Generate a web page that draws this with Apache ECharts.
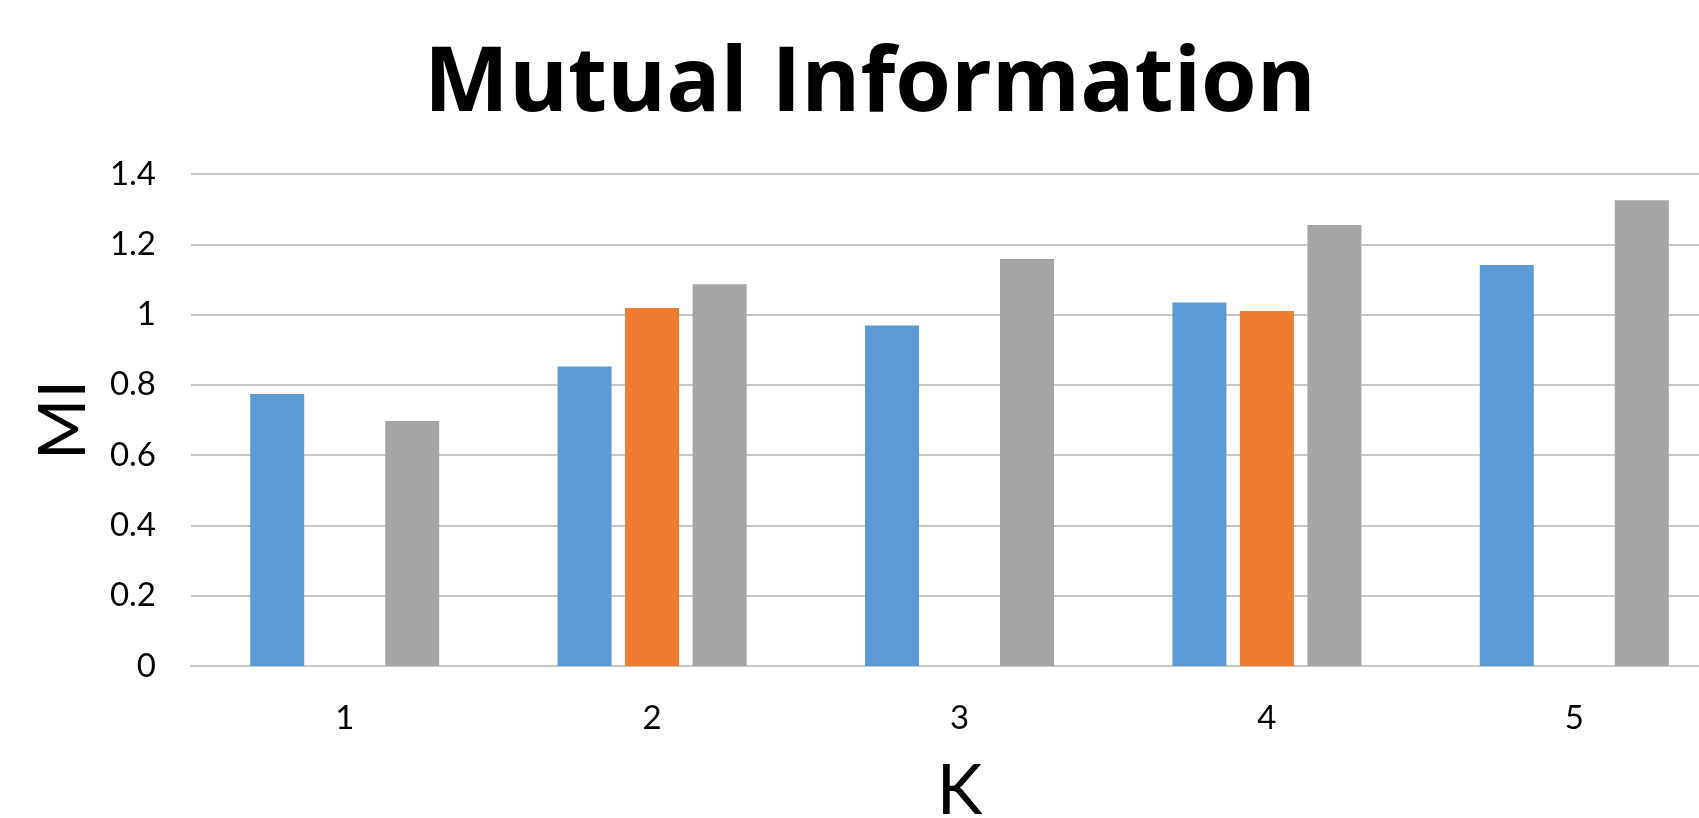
<!DOCTYPE html>
<html>
<head>
<meta charset="utf-8">
<title>Mutual Information</title>
<script src="https://cdn.jsdelivr.net/npm/echarts@6/dist/echarts.min.js"></script>
<style>
    html, body { margin: 0; padding: 0; background: #fff; overflow: hidden; }
    #chart { width: 1740px; height: 818px; }
</style>
</head>
<body>
<div id="chart"></div>
<script>
// categories (K) and MI values per series
const categories = ['1', '2', '3', '4', '5']
const seriesBlue = [0.774, 0.852, 0.969, 1.034, 1.141]
const seriesOrange = [null, 1.019, null, 1.010, null]
const seriesGray = [0.697, 1.086, 1.158, 1.255, 1.325]
const yTicks = [0, 0.2, 0.4, 0.6, 0.8, 1, 1.2, 1.4]

const font = 'Lato, "Open Sans", sans-serif'
const gridColor = '#c6c6c6'

const chart = echarts.init(document.getElementById('chart'))

chart.setOption({
    backgroundColor: '#fff',
    animation: false,
    title: {
        text: 'Mutual Information',
        left: 'center',
        top: 35,
        textStyle: {
            fontFamily: '"Open Sans", sans-serif',
            fontSize: 90,
            fontWeight: 'bold',
            color: '#000'
        }
    },
    grid: {
        left: 191,
        right: 12,
        top: 174,
        bottom: 152,
        outerBoundsMode: 'none' // keep the plot rect as given, names may sit near the edge
    },
    xAxis: {
        type: 'category',
        data: categories,
        name: 'K',
        nameLocation: 'middle',
        nameGap: 91,
        nameTextStyle: { fontFamily: font, fontSize: 69, color: '#000' },
        axisLine: { lineStyle: { color: gridColor, width: 2 } },
        axisTick: { show: false },
        axisLabel: { margin: 36, fontFamily: font, fontSize: 33, color: '#000' }
    },
    yAxis: {
        type: 'value',
        min: yTicks[0],
        max: yTicks[yTicks.length - 1],
        interval: 0.2,
        name: 'MI',
        nameLocation: 'middle',
        nameGap: 94,
        nameTextStyle: { fontFamily: font, fontSize: 66, color: '#000' },
        axisLine: { show: false },
        axisTick: { show: false },
        axisLabel: { margin: 35, fontFamily: font, fontSize: 33, color: '#000' },
        splitLine: { lineStyle: { color: gridColor, width: 2 } }
    },
    series: [
        { name: 'A', type: 'bar', data: seriesBlue, barWidth: 54, barGap: '25%', itemStyle: { color: '#5B9BD5' } },
        { name: 'B', type: 'bar', data: seriesOrange, barWidth: 54, barGap: '25%', itemStyle: { color: '#ED7D31' } },
        { name: 'C', type: 'bar', data: seriesGray, barWidth: 54, barGap: '25%', itemStyle: { color: '#A5A5A5' } }
    ]
})
</script>
</body>
</html>
